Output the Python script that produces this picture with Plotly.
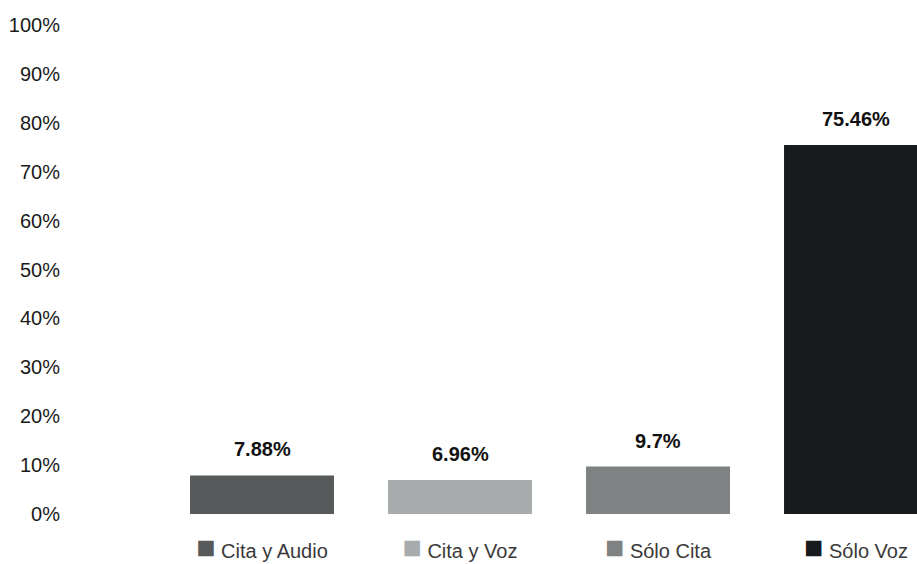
import plotly.graph_objects as go

categories = ["Cita y Audio", "Cita y Voz", "Sólo Cita", "Sólo Voz"]
values = [7.88, 6.96, 9.7, 75.46]
value_labels = ["7.88%", "6.96%", "9.7%", "75.46%"]
colors = ["#575a5b", "#a9acad", "#7f8282", "#181b1e"]
y_ticks = [0, 10, 20, 30, 40, 50, 60, 70, 80, 90, 100]
y_tick_labels = [f"{v}%" for v in y_ticks]

FONT = "Liberation Sans, Arial, sans-serif"

xs = list(range(len(categories)))
fig = go.Figure()
fig.add_trace(go.Bar(
    x=xs, y=values, marker=dict(color=colors, line=dict(width=0)),
    width=0.727, showlegend=False, hoverinfo="skip",
))

for x, v, lab in zip(xs, values, value_labels):
    fig.add_annotation(x=x, y=v, text=f"<b>{lab}</b>", showarrow=False,
                       yanchor="bottom", yshift=13,
                       font=dict(family=FONT, size=20, color="#111111"))

tick_text = [f"<span style='color:{c};font-size:32px'>■</span> {n}"
             for c, n in zip(colors, categories)]

fig.update_layout(
    width=917, height=564,
    margin=dict(l=163, r=0, t=25, b=50, autoexpand=False),
    paper_bgcolor="white", plot_bgcolor="white",
    font=dict(family=FONT, size=20, color="#222222"),
    xaxis=dict(range=[-0.5, 3.308], tickvals=xs, ticktext=tick_text,
               showgrid=False, zeroline=False, showline=False, ticks="",
               ticklabelstandoff=23, tickfont=dict(size=20, color="#3a3a3a")),
    yaxis=dict(range=[0, 100], tickvals=y_ticks, ticktext=y_tick_labels,
               showgrid=False, zeroline=False, showline=False, ticks="",
               ticklabelstandoff=102, tickfont=dict(size=20, color="#1a1a1a")),
)

fig.write_html("out.html", config={"displayModeBar": False},
               post_script="document.body.style.margin='0';")
